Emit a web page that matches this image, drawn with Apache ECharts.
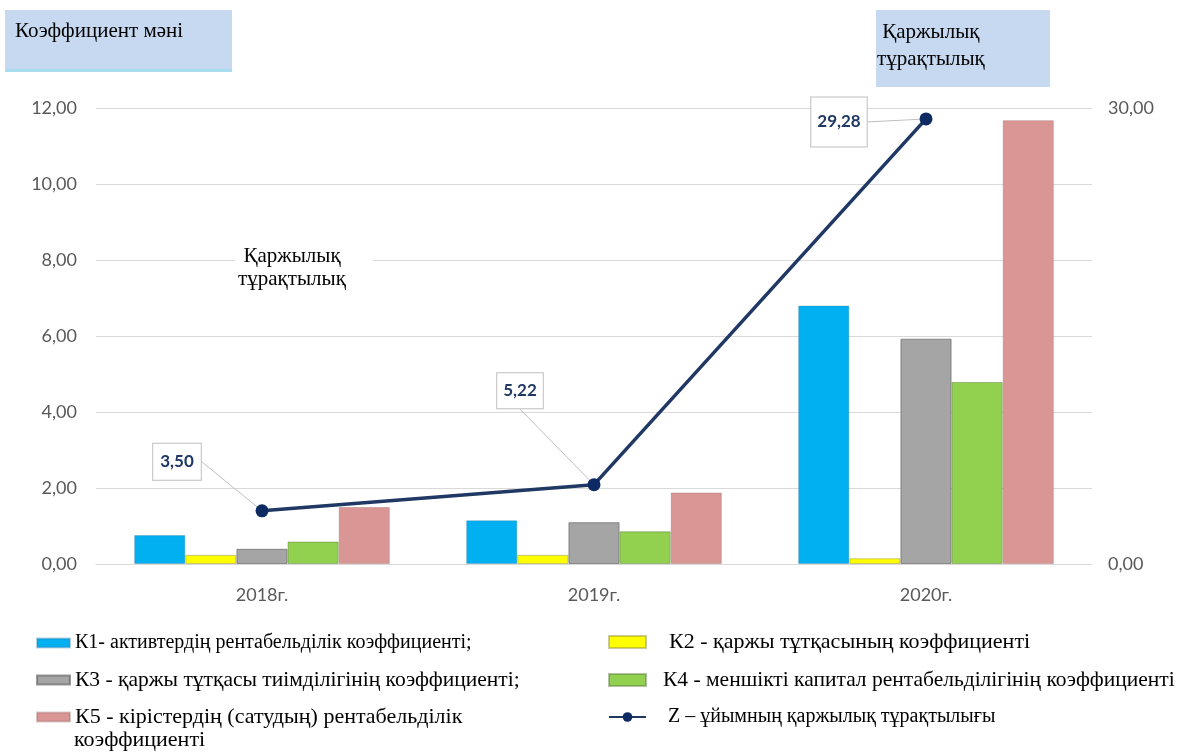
<!DOCTYPE html>
<html><head><meta charset="utf-8">
<script src="https://cdn.jsdelivr.net/npm/echarts@6/dist/echarts.min.js"></script>
<style>html,body{margin:0;padding:0;background:#fff}#c{width:1190px;height:753px}</style>
</head><body><div id="c"></div>
<script>
const categories = ['2018г.', '2019г.', '2020г.'];
const k1 = [0.76, 1.15, 6.80];
const k2 = [0.24, 0.24, 0.15];
const k3 = [0.40, 1.10, 5.93];
const k4 = [0.59, 0.86, 4.79];
const k5 = [1.50, 1.88, 11.68];
const z  = [3.50, 5.22, 29.28];
const leftTicks = [0, 2, 4, 6, 8, 10, 12];
const rightTicks = [0, 30];
const names = [
  'К1- активтердің рентабельділік коэффициенті;',
  'К2 - қаржы тұтқасының коэффициенті',
  'К3 - қаржы тұтқасы тиімділігінің коэффициенті;',
  'К4 - меншікті капитал рентабельділігінің коэффициенті',
  'К5 - кірістердің (сатудың) рентабельділік коэффициенті',
  'Z – ұйымның қаржылық тұрақтылығы'
];

const fmt = v => Number(v).toFixed(2).replace('.', ',');
const chart = echarts.init(document.getElementById('c'));
const serif = '"Liberation Serif", "DejaVu Serif", serif';
const sans = 'Lato, "Open Sans", sans-serif';
const labelOffsets = [[-85, -49], [-74, -94], [-87, 3]];
const labelPads = [[10, 7, 9, 7], [9, 6, 9, 6], [16, 6, 16, 6]];
const barColors = ['#00B0F0', '#FFFF00', '#A5A5A5', '#92D050', '#D99694'];
const barBorders = ['rgba(60,120,160,0.35)', 'rgba(150,150,60,0.5)', 'rgba(90,90,90,0.6)', 'rgba(90,120,60,0.45)', 'rgba(150,100,100,0.35)'];
const barData = [k1, k2, k3, k4, k5];

const series = barData.map((d, i) => ({
  name: names[i], type: 'bar', yAxisIndex: 0, data: d,
  barGap: '0%', barCategoryGap: '23%',
  itemStyle: { color: barColors[i], borderColor: barBorders[i], borderWidth: 1 }
}));
series.push({
  name: names[5], type: 'line', yAxisIndex: 1,
  data: z.map((v, i) => ({ value: v, label: { padding: labelPads[i] } })),
  symbol: 'circle', symbolSize: 13, z: 5,
  lineStyle: { color: '#1F3864', width: 3.5 },
  itemStyle: { color: '#0E2A63' },
  label: {
    show: true, position: 'top', formatter: p => fmt(p.value),
    color: '#1F3864', fontWeight: 'bold', fontSize: 17, fontFamily: sans,
    backgroundColor: '#fff', borderColor: '#BFBFBF', borderWidth: 1
  },
  labelLine: { show: true, lineStyle: { color: '#BFBFBF', width: 1 } },
  labelLayout: p => {
    const o = labelOffsets[p.dataIndex];
    return { x: p.rect.x + p.rect.width / 2 + o[0], y: p.rect.y + p.rect.height / 2 + o[1], align: 'center', verticalAlign: 'middle' };
  }
});

const mkLegend = (name, left, top, w, h, padLeft, size, icon, fmtFn) => ({
  data: [name], left, top, orient: 'vertical', itemWidth: w, itemHeight: h, padding: 0,
  icon: icon,
  textStyle: { fontFamily: serif, fontSize: size, lineHeight: 24, color: '#000', padding: [0, 0, 0, padLeft] },
  formatter: fmtFn || (n => n), selectedMode: false
});

chart.setOption({
  animation: false,
  grid: { left: 96, right: 98, top: 108, bottom: 189 },
  legend: [
    mkLegend(names[0], 36, 631, 33, 9, 0, 20, 'rect'),
    mkLegend(names[2], 36, 668, 33, 9, 0, 21.5, 'rect'),
    mkLegend(names[4], 36, 705, 33, 9, 0, 22, 'rect', n => 'К5 - кірістердің (сатудың) рентабельділік'),
    mkLegend(names[1], 608, 630, 37, 12, 18, 22, 'rect'),
    mkLegend(names[3], 608, 668, 37, 12, 12, 21.5, 'rect'),
    mkLegend(names[5], 608, 705, 37, 12, 17, 20)
  ],
  xAxis: {
    type: 'category', data: categories,
    axisLine: { lineStyle: { color: '#D9D9D9' } }, axisTick: { show: false },
    axisLabel: { color: '#595959', fontSize: 18, fontFamily: sans, margin: 22 }
  },
  yAxis: [
    { type: 'value', min: 0, max: 12, interval: 2,
      axisLabel: { formatter: fmt, color: '#595959', fontSize: 18, fontFamily: sans, margin: 19 },
      splitLine: { lineStyle: { color: '#D9D9D9' } }, axisLine: { show: false }, axisTick: { show: false } },
    { type: 'value', min: 0, max: 30, interval: 30,
      axisLabel: { formatter: fmt, color: '#595959', fontSize: 18, fontFamily: sans, margin: 16 },
      splitLine: { show: false }, axisLine: { show: false }, axisTick: { show: false } }
  ],
  graphic: [
    { type: 'rect', left: 5, top: 10, z: 100, shape: { width: 227, height: 59 }, style: { fill: '#C6D9F1', shadowColor: '#A8DDF0', shadowOffsetY: 3, shadowBlur: 0 } },
    { type: 'text', left: 15, top: 21, z: 101, style: { text: 'Коэффициент мәні', fontFamily: serif, fontSize: 21, fill: '#000' } },
    { type: 'rect', left: 876, top: 10, z: 100, shape: { width: 174, height: 77 }, style: { fill: '#C6D9F1' } },
    { type: 'text', left: 877, top: 19, z: 101, style: { text: ' Қаржылық\nтұрақтылық', fontFamily: serif, fontSize: 21, lineHeight: 27, fill: '#000' } },
    { type: 'rect', left: 235, top: 246, z: 100, shape: { width: 138, height: 44 }, style: { fill: '#fff' } },
    { type: 'text', x: 292, y: 245, z: 101, style: { text: 'Қаржылық\nтұрақтылық', fontFamily: serif, fontSize: 21, lineHeight: 23, fill: '#000', align: 'center' } },
    { type: 'text', left: 74, top: 728, z: 101, style: { text: 'коэффициенті', fontFamily: serif, fontSize: 22, lineHeight: 24, fill: '#000' } }
  ],
  series
});
</script></body></html>
